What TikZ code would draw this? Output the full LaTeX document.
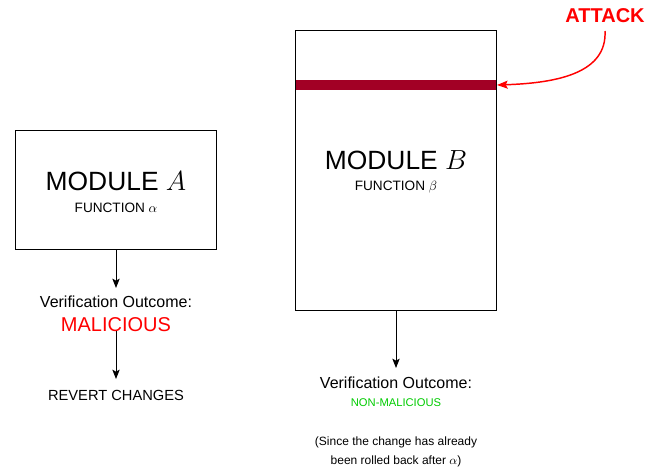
\documentclass[tikz,border=0pt]{standalone}
\usepackage{fontspec}
\setmainfont{Liberation Sans}
\usetikzlibrary{arrows.meta}
\definecolor{barred}{HTML}{A20025}
\definecolor{okgreen}{HTML}{00CC00}
\begin{document}
\begin{tikzpicture}[x=0.75pt,y=-0.75pt,
  box/.style={draw=black,line width=0.75pt,fill=white},
  conn/.style={draw=black,line width=0.75pt,-{Stealth[length=7pt,width=5.5pt,inset=1.5pt]}},
  big/.style={font=\fontsize{19.8pt}{22pt}\selectfont},
  small/.style={font=\fontsize{10.2pt}{12pt}\selectfont},
  mid/.style={font=\fontsize{12pt}{14pt}\selectfont},
  txt/.style={inner sep=0pt,anchor=center}]
\useasboundingbox (0,0) rectangle (666,471);
\fill[white] (0,0) rectangle (666,471);
% Module A
\draw[box] (15.5,130) rectangle (216,249.5);
\coordinate (Abot) at (116,249.5);
\node[txt,big] (modA) at (116,181) {MODULE $A$};
\node[txt,small] (funA) at (116,208) {FUNCTION $\alpha$};
\node[txt,mid] (verA) at (116,302) {Verification Outcome:};
\node[txt,font=\fontsize{15pt}{17pt}\selectfont,text=red] (malA) at (116,325) {MALICIOUS};
\coordinate (malAbot) at (116,331);
\node[txt,font=\fontsize{11pt}{13pt}\selectfont] (revA) at (116,395) {REVERT CHANGES};
\draw[conn] (Abot) -- (116,288);
\draw[conn] (malAbot) -- (116,379);
% Module B
\draw[box] (295.5,30.5) rectangle (496,310);
\fill[barred] (295.5,80) rectangle (496,90);
\draw[line width=0.75pt] (295.5,30.5) rectangle (496,310);
\coordinate (Bbot) at (396,310);
\coordinate (Bbar) at (497,85);
\node[txt,big] (modB) at (396,160) {MODULE $B$};
\node[txt,small] (funB) at (396,187) {FUNCTION $\beta$};
\node[txt,mid] (verB) at (396,383) {Verification Outcome:};
\node[txt,font=\fontsize{8.4pt}{10pt}\selectfont,text=okgreen] (nonB) at (396,403) {NON-MALICIOUS};
\node[txt,font=\fontsize{9pt}{11pt}\selectfont,align=center] (noteB) at (396,452) {(Since the change has already\\[3pt]been rolled back after $\alpha$)};
\draw[conn] (Bbot) -- (396,368);
% Attack
\node[txt,font=\fontsize{15pt}{17pt}\selectfont\bfseries,text=red] (att) at (605,15.5) {ATTACK};
\coordinate (attbot) at (605,31);
\draw[draw=red,line width=1.1pt,-{Stealth[length=8pt,width=6pt,inset=1.5pt]}] (attbot) .. controls (607,72) and (560,83) .. (Bbar);
\end{tikzpicture}
\end{document}
